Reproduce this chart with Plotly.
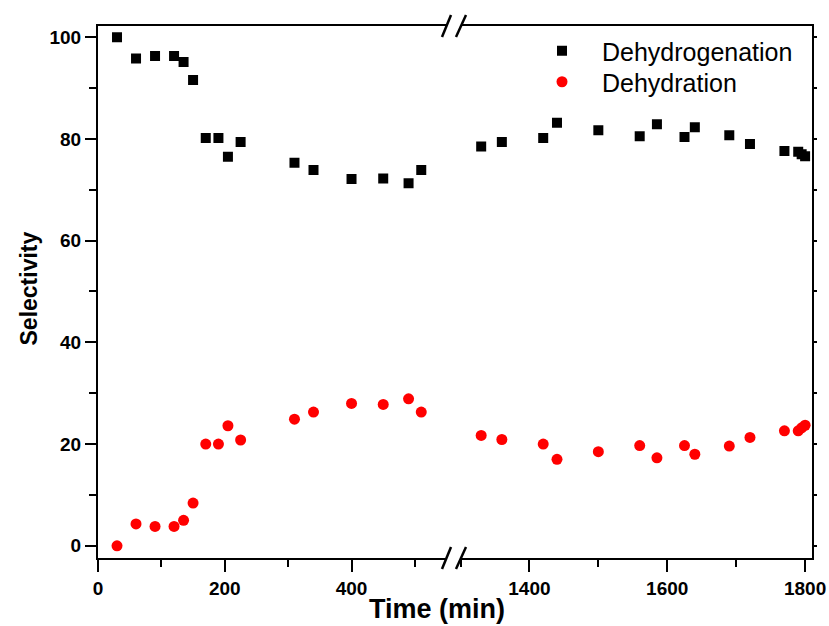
import plotly.graph_objects as go

# ---- data ----
time_min = [30, 60, 90, 120, 135, 150, 170, 190, 205, 225, 310, 340, 400, 450, 490, 510,
            1330, 1360, 1420, 1440, 1500, 1560, 1585, 1625, 1640, 1690, 1720, 1770, 1790, 1795, 1800]
dehydrogenation = [100.0, 95.8, 96.3, 96.3, 95.1, 91.6, 80.2, 80.2, 76.5, 79.4, 75.3, 73.9, 72.1, 72.2, 71.3, 73.9,
                   78.5, 79.4, 80.2, 83.2, 81.7, 80.5, 82.9, 80.4, 82.3, 80.7, 79.0, 77.6, 77.5, 77.0, 76.6]
dehydration = [0.0, 4.3, 3.8, 3.8, 5.0, 8.4, 20.0, 20.0, 23.6, 20.8, 24.9, 26.3, 28.0, 27.8, 28.9, 26.3,
               21.7, 20.9, 20.0, 17.0, 18.5, 19.7, 17.3, 19.7, 18.0, 19.6, 21.3, 22.6, 22.6, 23.2, 23.7]
left_range = [0, 550]
right_range = [1300, 1810]
y_range = [-2.4, 102.2]
x_ticks_left = [0, 200, 400]
x_ticks_right = [1400, 1600, 1800]
y_ticks = [0, 20, 40, 60, 80, 100]

FONT = "Liberation Sans, Arial, sans-serif"
W, H = 829, 626
ML, MR, MT, MB = 98, 17, 26, 68

left_idx = [i for i, t in enumerate(time_min) if t <= left_range[1]]
right_idx = [i for i, t in enumerate(time_min) if t >= right_range[0]]

pw = W - ML - MR
ph = H - MT - MB
def px(X):
    return (X - ML) / pw
def py(Y):
    return (H - MB - Y) / ph

fig = go.Figure()
series = [("Dehydrogenation", dehydrogenation, "square", "black", 10, "legend"),
          ("Dehydration", dehydration, "circle", "#ff0000", 11, "legend2")]
for name, vals, sym, col, sz, leg in series:
    fig.add_trace(go.Scatter(x=[time_min[i] for i in left_idx], y=[vals[i] for i in left_idx],
                             mode="markers", name=name, legendgroup=name, legend=leg,
                             marker=dict(symbol=sym, color=col, size=sz),
                             xaxis="x", yaxis="y"))
    fig.add_trace(go.Scatter(x=[time_min[i] for i in right_idx], y=[vals[i] for i in right_idx],
                             mode="markers", name=name, legendgroup=name, showlegend=False,
                             legend=leg, marker=dict(symbol=sym, color=col, size=sz),
                             xaxis="x2", yaxis="y2"))

d_left = [0, px(446.6)]
d_right = [px(460.5), 1]

tickfont = dict(family=FONT, size=19, color="black", weight="bold")
common_x = dict(showline=True, linecolor="black", linewidth=2, ticks="outside", ticklen=12,
                tickwidth=2, tickcolor="black", showgrid=False, zeroline=False,
                tickfont=tickfont, mirror=True, automargin=False,
                minor=dict(ticks="outside", ticklen=7, tickwidth=2, tickcolor="black", dtick=100))
legend_common = dict(xanchor="left", yanchor="middle", bgcolor="rgba(0,0,0,0)",
                     font=dict(family=FONT, size=25, color="black"), itemwidth=70)
fig.update_layout(
    width=W, height=H, margin=dict(l=ML, r=MR, t=MT, b=MB, autoexpand=False),
    plot_bgcolor="white", paper_bgcolor="white",
    xaxis=dict(domain=d_left, range=left_range, tickvals=x_ticks_left, anchor="y", **common_x),
    xaxis2=dict(domain=d_right, range=right_range, tickvals=x_ticks_right, anchor="y2", **common_x),
    yaxis=dict(range=y_range, tickvals=y_ticks, anchor="x", showline=True, linecolor="black",
               linewidth=2, ticks="outside", ticklen=11, tickwidth=2, tickcolor="black",
               showgrid=False, zeroline=False, tickfont=tickfont, automargin=False,
               minor=dict(ticks="outside", ticklen=7, tickwidth=2, tickcolor="black", dtick=10)),
    yaxis2=dict(range=y_range, tickvals=y_ticks, anchor="x2", side="right", showline=True,
                linecolor="black", linewidth=2, ticks="outside", ticklen=3, tickwidth=1.5,
                tickcolor="black", showticklabels=False, showgrid=False, zeroline=False,
                automargin=False,
                minor=dict(ticks="outside", ticklen=3, tickwidth=1.5, tickcolor="black", dtick=10)),
    legend=dict(x=px(522), y=py(51), **legend_common),
    legend2=dict(x=px(522), y=py(82), **legend_common),
    showlegend=True,
)

fig.add_annotation(text="<b>Time (min)</b>", xref="paper", yref="paper",
                   x=px(436.5), y=py(609), xanchor="center", yanchor="middle", showarrow=False,
                   font=dict(family=FONT, size=27, color="black"))
fig.add_annotation(text="<b>Selectivity</b>", xref="paper", yref="paper", textangle=-90,
                   x=px(28), y=py(288.5), xanchor="center", yanchor="middle", showarrow=False,
                   font=dict(family=FONT, size=23, color="black"))

# axis break marks
shapes = []
for yline in (MT, H - MB):
    for x0, x1 in ((442, 451), (456, 466)):
        shapes.append(dict(type="line", xref="paper", yref="paper",
                           x0=px(x0), y0=py(yline + 11), x1=px(x1), y1=py(yline - 11),
                           line=dict(color="black", width=2.5)))
fig.update_layout(shapes=shapes)

fig.write_html("out.html")
